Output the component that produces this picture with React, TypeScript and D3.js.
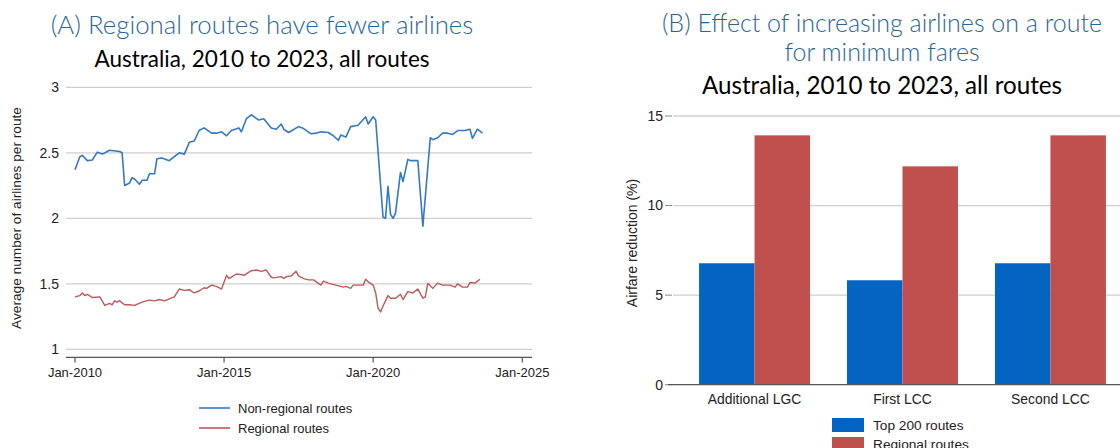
import * as d3 from 'd3';

// Panel A – average number of airlines per route (month, value)
const nonRegional: [string, number][] = [
  ['2010-01', 2.37], ['2010-03', 2.47], ['2010-04', 2.48], ['2010-06', 2.44], ['2010-08', 2.445],
  ['2010-10', 2.505], ['2010-12', 2.49], ['2011-02', 2.51], ['2011-03', 2.52], ['2011-07', 2.51],
  ['2011-08', 2.5], ['2011-09', 2.25], ['2011-11', 2.27], ['2011-12', 2.31], ['2012-01', 2.3],
  ['2012-03', 2.26], ['2012-04', 2.29], ['2012-06', 2.29], ['2012-07', 2.34], ['2012-09', 2.34],
  ['2012-10', 2.455], ['2012-12', 2.46], ['2013-03', 2.44], ['2013-05', 2.47], ['2013-07', 2.5],
  ['2013-09', 2.49], ['2013-11', 2.58], ['2014-01', 2.59], ['2014-03', 2.67], ['2014-05', 2.69],
  ['2014-08', 2.65], ['2014-10', 2.65], ['2014-12', 2.66], ['2015-02', 2.63], ['2015-04', 2.67],
  ['2015-07', 2.69], ['2015-08', 2.66], ['2015-10', 2.76], ['2015-12', 2.79], ['2016-03', 2.75],
  ['2016-05', 2.76], ['2016-08', 2.69], ['2016-10', 2.68], ['2016-12', 2.72], ['2017-01', 2.68],
  ['2017-03', 2.655], ['2017-07', 2.7], ['2017-09', 2.685], ['2017-12', 2.645], ['2018-02', 2.65],
  ['2018-04', 2.66], ['2018-07', 2.655], ['2018-09', 2.63], ['2018-11', 2.595], ['2018-12', 2.635],
  ['2019-02', 2.62], ['2019-04', 2.7], ['2019-07', 2.71], ['2019-10', 2.775], ['2019-11', 2.72],
  ['2020-01', 2.775], ['2020-02', 2.75], ['2020-05', 2.01], ['2020-06', 2.0], ['2020-07', 2.245],
  ['2020-08', 2.03], ['2020-09', 2.0], ['2020-10', 2.04], ['2020-12', 2.35], ['2021-01', 2.28],
  ['2021-03', 2.45], ['2021-04', 2.44], ['2021-05', 2.44], ['2021-07', 2.44], ['2021-09', 1.94],
  ['2021-12', 2.615], ['2022-01', 2.6], ['2022-03', 2.615], ['2022-05', 2.65], ['2022-07', 2.65],
  ['2022-09', 2.64], ['2022-11', 2.67], ['2023-02', 2.67], ['2023-04', 2.68], ['2023-05', 2.61],
  ['2023-07', 2.68], ['2023-09', 2.65],
];

const regional: [string, number][] = [
  ['2010-01', 1.4], ['2010-03', 1.41], ['2010-04', 1.43], ['2010-05', 1.41], ['2010-06', 1.42],
  ['2010-08', 1.395], ['2010-11', 1.4], ['2011-01', 1.335], ['2011-03', 1.35], ['2011-04', 1.34],
  ['2011-05', 1.37], ['2011-06', 1.36], ['2011-07', 1.37], ['2011-09', 1.34], ['2011-11', 1.34],
  ['2012-01', 1.335], ['2012-04', 1.36], ['2012-07', 1.375], ['2012-09', 1.37], ['2012-11', 1.38],
  ['2013-01', 1.37], ['2013-03', 1.385], ['2013-05', 1.4], ['2013-07', 1.46], ['2013-09', 1.45],
  ['2013-11', 1.455], ['2014-01', 1.43], ['2014-03', 1.445], ['2014-05', 1.47], ['2014-06', 1.465],
  ['2014-08', 1.49], ['2014-10', 1.48], ['2014-12', 1.46], ['2015-02', 1.565], ['2015-03', 1.54],
  ['2015-06', 1.575], ['2015-08', 1.57], ['2015-09', 1.565], ['2015-12', 1.6], ['2016-02', 1.605],
  ['2016-04', 1.595], ['2016-06', 1.605], ['2016-08', 1.55], ['2016-09', 1.545], ['2016-12', 1.555],
  ['2017-01', 1.54], ['2017-02', 1.555], ['2017-04', 1.56], ['2017-06', 1.595], ['2017-07', 1.56],
  ['2017-09', 1.54], ['2017-11', 1.53], ['2018-01', 1.53], ['2018-04', 1.49], ['2018-05', 1.52],
  ['2018-07', 1.505], ['2018-10', 1.49], ['2019-01', 1.475], ['2019-02', 1.48], ['2019-04', 1.465],
  ['2019-05', 1.49], ['2019-09', 1.49], ['2019-10', 1.535], ['2019-11', 1.515], ['2020-01', 1.49],
  ['2020-02', 1.43], ['2020-03', 1.315], ['2020-04', 1.285], ['2020-05', 1.33], ['2020-07', 1.41],
  ['2020-08', 1.39], ['2020-10', 1.39], ['2020-12', 1.42], ['2021-01', 1.38], ['2021-03', 1.44],
  ['2021-05', 1.43], ['2021-07', 1.46], ['2021-09', 1.39], ['2021-10', 1.4], ['2021-11', 1.505],
  ['2022-01', 1.465], ['2022-03', 1.505], ['2022-05', 1.49], ['2022-08', 1.49], ['2022-10', 1.475],
  ['2022-11', 1.5], ['2023-01', 1.475], ['2023-03', 1.475], ['2023-04', 1.51], ['2023-06', 1.505],
  ['2023-08', 1.535],
];

const yTicksA = [1, 1.5, 2, 2.5, 3];
const xTickYears = [2010, 2015, 2020, 2025];

// Panel B – airfare reduction (%)
const categories = ['Additional LGC', 'First LCC', 'Second LCC'];
const barSeries = ['Top 200 routes', 'Regional routes'];
const top200 = [6.78, 5.83, 6.78];
const regionalFare = [13.92, 12.19, 13.92];
const yTicksB = [0, 5, 10, 15];

const BLUE_LINE = '#3479c6';
const RED_LINE = '#c0575a';
const BLUE_BAR = '#0563c1';
const RED_BAR = '#c0504d';
const TITLE_BLUE = '#2a6599';
const GRID = '#cfcfcf';
const AXIS_FONT = '"Liberation Sans", Arial, sans-serif';
const TITLE_FONT = 'Lato, "Open Sans", sans-serif';

const parse = d3.timeParse('%Y-%m');

export default function App() {
  // ---- panel A scales
  const x = d3
    .scaleTime()
    .domain([new Date(2010, 0, 1), new Date(2025, 0, 1)])
    .range([75, 522.3]);
  const y = d3.scaleLinear().domain([1, 3]).range([349.3, 87.3]);
  const line = d3
    .line<[string, number]>()
    .x(d => x(parse(d[0]) as Date))
    .y(d => y(d[1]));

  // ---- panel B scales
  const xb = d3
    .scaleBand<string>()
    .domain(categories)
    .range([668, 1137])
    .paddingInner(0.25)
    .paddingOuter(0.21);
  const xs = d3.scaleBand<string>().domain(barSeries).range([0, xb.bandwidth()]);
  const yb = d3.scaleLinear().domain([0, 15]).range([384.7, 116]);
  const barValues = [top200, regionalFare];
  const barColors = [BLUE_BAR, RED_BAR];

  return (
    <svg
      width={1120}
      height={448}
      style={{ position: 'absolute', left: 0, top: 0, background: '#fff' }}
    >
      {/* ===== Panel A ===== */}
      <text x={262} y={34} textAnchor="middle" fontFamily={TITLE_FONT} fontWeight={300}
        fontSize={25.8} fill={TITLE_BLUE}>
        (A) Regional routes have fewer airlines
      </text>
      <text x={262} y={67} textAnchor="middle" fontFamily={TITLE_FONT} fontSize={22.5} fill="#000">
        Australia, 2010 to 2023, all routes
      </text>

      {yTicksA.map(t => (
        <g key={t}>
          <line x1={66} x2={532} y1={y(t)} y2={y(t)} stroke={GRID} strokeWidth={1.3} />
          <text x={59} y={y(t)} dy="0.35em" textAnchor="end" fontFamily={AXIS_FONT}
            fontSize={14} fill="#222">
            {t}
          </text>
        </g>
      ))}
      <line x1={66} x2={532} y1={357.3} y2={357.3} stroke="#555" strokeWidth={1.2} />
      {xTickYears.map(yr => {
        const px = x(new Date(yr, 0, 1));
        return (
          <g key={yr}>
            <line x1={px} x2={px} y1={357.3} y2={362.5} stroke="#555" strokeWidth={1.2} />
            <text x={px} y={377} textAnchor="middle" fontFamily={AXIS_FONT} fontSize={13}
              fill="#222">
              {`Jan-${yr}`}
            </text>
          </g>
        );
      })}
      <text transform="translate(21,218) rotate(-90)" textAnchor="middle" fontFamily={AXIS_FONT}
        fontSize={13.7} fill="#222">
        Average number of airlines per route
      </text>

      <path d={line(nonRegional) || ''} fill="none" stroke={BLUE_LINE} strokeWidth={1.6}
        strokeLinejoin="round" />
      <path d={line(regional) || ''} fill="none" stroke={RED_LINE} strokeWidth={1.4}
        strokeLinejoin="round" />

      {[
        { label: 'Non-regional routes', color: BLUE_LINE, yy: 408 },
        { label: 'Regional routes', color: RED_LINE, yy: 428 },
      ].map(l => (
        <g key={l.label}>
          <line x1={199} x2={230} y1={l.yy} y2={l.yy} stroke={l.color} strokeWidth={1.6} />
          <text x={238} y={l.yy} dy="0.35em" fontFamily={AXIS_FONT} fontSize={13} fill="#222">
            {l.label}
          </text>
        </g>
      ))}

      {/* ===== Panel B ===== */}
      <text x={882} y={32} textAnchor="middle" fontFamily={TITLE_FONT} fontWeight={300}
        fontSize={25} fill={TITLE_BLUE}>
        (B) Effect of increasing airlines on a route
      </text>
      <text x={882} y={61} textAnchor="middle" fontFamily={TITLE_FONT} fontWeight={300}
        fontSize={25} fill={TITLE_BLUE}>
        for minimum fares
      </text>
      <text x={882} y={94} textAnchor="middle" fontFamily={TITLE_FONT} fontSize={24.2} fill="#000">
        Australia, 2010 to 2023, all routes
      </text>

      {yTicksB.map(t => (
        <g key={t}>
          {t > 0 && (
            <line x1={673} x2={1120} y1={yb(t)} y2={yb(t)} stroke={GRID} strokeWidth={1.3} />
          )}
          <line x1={665} x2={672} y1={yb(t)} y2={yb(t)} stroke="#888" strokeWidth={1} />
          <text x={663} y={yb(t)} dy="0.35em" textAnchor="end" fontFamily={AXIS_FONT}
            fontSize={14} fill="#222">
            {t}
          </text>
        </g>
      ))}
      <text transform="translate(637,243) rotate(-90)" textAnchor="middle" fontFamily={AXIS_FONT}
        fontSize={14} fill="#222">
        Airfare reduction (%)
      </text>

      {categories.map((c, i) => (
        <g key={c} transform={`translate(${xb(c)},0)`}>
          {barSeries.map((s, j) => (
            <rect key={s} x={xs(s)} y={yb(barValues[j][i])} width={xs.bandwidth()}
              height={yb(0) - yb(barValues[j][i])} fill={barColors[j]} />
          ))}
          <text x={xb.bandwidth() / 2} y={404} textAnchor="middle" fontFamily={AXIS_FONT}
            fontSize={13.9} fill="#222">
            {c}
          </text>
        </g>
      ))}
      <line x1={668} x2={1120} y1={yb(0)} y2={yb(0)} stroke="#555" strokeWidth={1.2} />

      {barSeries.map((s, j) => (
        <g key={s} transform={`translate(832,${418 + j * 19})`}>
          <rect width={32} height={14} fill={barColors[j]} />
          <text x={41} y={7} dy="0.35em" fontFamily={AXIS_FONT} fontSize={13.7} fill="#222">
            {s}
          </text>
        </g>
      ))}
    </svg>
  );
}
